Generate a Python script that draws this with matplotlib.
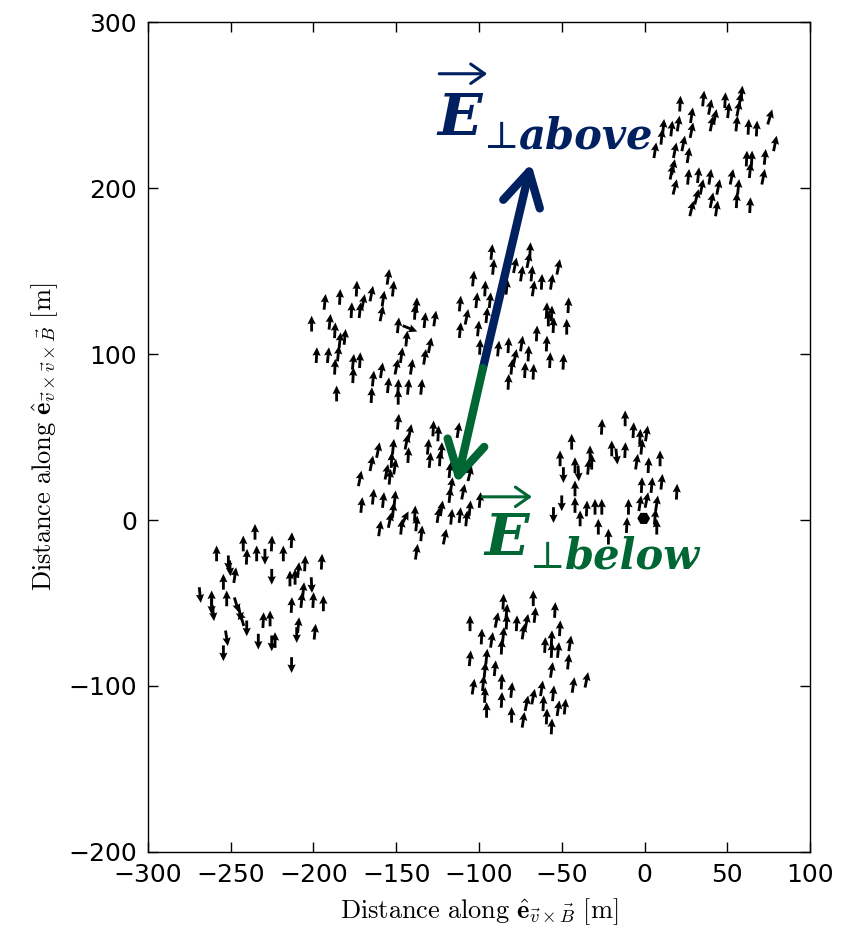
import numpy as np
import matplotlib
matplotlib.use('Agg')
import matplotlib.pyplot as plt

plt.rcParams['mathtext.fontset'] = 'cm'

# arrow samples per antenna cluster: (x, y, u, v)
cluster_top_right = [
    (21.5, 251, 0.05, 1), (35.6, 254.1, 0.1, 1), (39.6, 249, 0.2, 1), (48.7, 253.1, 0.05, 1),
    (50.7, 247, 0.1, 1), (57.7, 253.1, 0.15, 1), (58.7, 257.1, 0.1, 1), (56.7, 248, 0.2, 1),
    (42.6, 243, 0.2, 1), (40.6, 239, 0.2, 1), (55.7, 239, 0.1, 1), (62.8, 237, 0.05, 1),
    (67.8, 236, 0.05, 1), (75.8, 243, 0.3, 1), (78.9, 227, 0.2, 1), (28.5, 244, 0.15, 1),
    (20.5, 239, 0.15, 1), (16.4, 236, 0.1, 1), (11.4, 237, 0.1, 1), (10.4, 231, 0.1, 1),
    (6.4, 222.9, 0.15, 1), (28.5, 235, 0.2, 1), (23.5, 227, 0.2, 1), (18.4, 222.9, 0.2, 1),
    (26.5, 219.9, 0.15, 1), (17.4, 212.9, 0.2, 1), (16.4, 209.9, 0.2, 1), (18.4, 200.8, 0.25, 1),
    (26.5, 206.9, 0.1, 1), (32.5, 207.9, 0.1, 1), (39.6, 206.9, 0.15, 1), (34.6, 200.8, 0.2, 1),
    (31.5, 194.8, 0.25, 1), (28.5, 187.8, 0.25, 1), (44.6, 200.8, 0.2, 1), (40.6, 192.8, 0.2, 1),
    (43.6, 187.8, 0.15, 1), (52.7, 206.9, 0.2, 1), (56.7, 200.8, 0.1, 1), (55.7, 192.8, 0.05, 1),
    (61.7, 217.9, 0.05, 1), (64.8, 217.9, 0.05, 1), (63.8, 210.9, 0.1, 1), (72.8, 218.9, 0.1, 1),
    (71.8, 206.9, 0.2, 1), (63.8, 189.8, 0.05, 1),
]

cluster_right = [
    (-25.8, 56.2, 0.05, 1), (-11.7, 61.3, 0, 1), (-6.7, 54.2, 0.05, 1), (-2.7, 50.2, 0.05, 1),
    (1.3, 52.2, 0.15, 1), (-1.7, 44.2, 0.1, 1), (-44.0, 47.2, 0, 1), (-51.0, 37.2, 0, 1),
    (-49.0, 27.1, 0, -1), (-42.0, 33.1, 0, 1), (-39.9, 28.1, 0.05, -1), (-32.9, 40.2, 0, 1),
    (-33.9, 32.1, 0.1, 1), (-31.9, 35.2, 0, 1), (-19.8, 43.2, 0, 1), (-16.8, 38.2, 0.1, -1),
    (-11.7, 42.2, 0.05, 1), (-4.7, 35.2, 0.15, 1), (2.4, 33.1, 0.05, 1), (9.4, 37.2, 0, 1),
    (-1.7, 21.1, 0.05, 1), (4.4, 21.1, 0.1, 1), (10.4, 23.1, 0.1, 1), (19.5, 17.1, 0.05, 1),
    (-42.0, 19.1, 0, 1), (-42.0, 9.1, 0, 1), (-50.0, 10.1, 0, -1), (-55.0, 3.0, 0, -1),
    (-38.9, 1.0, 0, 1), (-34.9, 7.0, 0.05, 1), (-29.9, 8.0, 0, 1), (-25.8, 8.0, 0, 1),
    (-27.9, -4.0, 0, 1), (-9.7, 8.0, 0, 1), (-10.7, -3.0, 0.05, 1), (-2.7, 10.1, 0.15, 1),
    (1.3, 12.1, 0.2, 1), (7.4, 10.1, 0.15, 1), (6.4, 2.0, 0.1, 1), (7.4, -4.0, 0, 1),
    (-21.8, -10.0, 0, 1),
]

# near-zero field at the shower core
core_x = [-0.5]
core_y = [1.0]

cluster_bottom = [
    (-85.3, -49.2, 0.05, 1), (-83.3, -55.2, 0.1, 1), (-67.2, -47.1, 0, 1), (-66.2, -57.2, 0.1, 1),
    (-54.1, -54.2, 0.05, 1), (-105.4, -62.2, 0, 1), (-89.3, -60.2, 0.2, 1), (-83.3, -61.2, 0.05, 1),
    (-77.2, -62.2, 0.05, 1), (-71.2, -61.2, 0.2, 1), (-73.2, -67.2, 0.15, 1), (-98.4, -70.2, 0.05, 1),
    (-92.3, -72.2, 0.15, 1), (-85.3, -69.2, 0.1, 1), (-86.3, -76.3, 0.05, 1), (-60.1, -75.3, 0.05, 1),
    (-56.1, -71.2, 0.05, 1), (-51.1, -65.2, 0.05, 1), (-56.1, -78.3, 0.05, 1), (-52.1, -78.3, 0.1, 1),
    (-45.0, -74.3, 0.15, 1), (-46.0, -85.3, 0.1, 1), (-105.4, -83.3, 0.1, 1), (-95.4, -82.3, 0.1, 1),
    (-96.4, -90.3, 0.1, 1), (-90.3, -89.3, 0.1, 1), (-103.4, -100.4, 0.15, 1), (-97.4, -98.3, 0.1, 1),
    (-96.4, -105.4, 0.05, 1), (-95.4, -114.4, 0, 1), (-86.3, -97.3, 0.05, 1), (-86.3, -108.4, 0.05, 1),
    (-80.3, -102.4, 0.1, 1), (-80.3, -117.4, 0, 1), (-73.2, -120.4, 0.15, 1), (-71.2, -110.4, 0.2, 1),
    (-67.2, -106.4, 0.2, 1), (-62.1, -101.4, 0.15, 1), (-61.1, -110.4, 0.05, 1), (-59.1, -118.4, 0.05, 1),
    (-56.1, -124.4, 0.05, 1), (-55.1, -104.4, 0.1, 1), (-56.1, -90.3, 0.15, 1), (-52.1, -113.4, 0.15, 1),
    (-48.0, -112.4, 0.1, 1), (-43.0, -99.4, 0.15, 1), (-35.0, -96.3, 0.2, 1),
]

cluster_left = [
    (-235.3, -7.1, 0, 1), (-242.4, -14.1, 0, 1), (-240.3, -22.1, 0.05, 1), (-234.3, -20.1, 0, 1),
    (-229.3, -22.1, 0, -1), (-225.2, -14.1, 0.05, 1), (-213.2, -12.1, 0.05, 1), (-218.2, -20.1, 0, 1),
    (-258.5, -20.1, 0, 1), (-251.4, -26.1, 0, -1), (-250.4, -29.1, 0.05, -1), (-247.4, -33.2, 0.15, 1),
    (-254.4, -37.2, 0, 1), (-225.2, -34.2, 0, -1), (-214.2, -35.2, 0, 1), (-211.1, -34.2, 0, 1),
    (-209.1, -30.1, 0.1, 1), (-205.1, -26.1, 0.05, 1), (-195.0, -25.1, 0.05, 1), (-268.5, -45.2, 0.1, -1),
    (-261.5, -47.2, 0, 1), (-261.5, -52.2, 0, -1), (-260.5, -56.2, 0.1, -1), (-252.4, -47.2, 0, 1),
    (-246.4, -51.2, 0.3, -1), (-244.4, -56.2, 0.2, -1), (-243.4, -59.3, -0.3, 1), (-240.3, -65.3, 0, -1),
    (-230.3, -60.3, 0.05, 1), (-226.2, -59.3, 0, 1), (-233.3, -73.3, 0, -1), (-225.2, -74.3, 0, -1),
    (-223.2, -72.3, 0, 1), (-213.2, -51.2, 0.05, 1), (-207.1, -48.2, 0.1, 1), (-206.1, -42.2, 0.1, 1),
    (-201.1, -39.2, 0.05, -1), (-200.1, -48.2, 0.05, 1), (-194.0, -50.2, 0, 1), (-209.1, -63.3, 0.1, 1),
    (-210.1, -69.3, 0, -1), (-199.1, -67.3, 0.1, 1), (-252.4, -71.3, 0.15, -1), (-254.4, -80.3, 0, -1),
    (-213.2, -87.4, 0, -1),
]

cluster_centre = [
    (-148.8, 59.3, 0.1, 1), (-141.7, 53.2, 0.2, 1), (-127.6, 55.2, 0.05, 1), (-124.6, 52.2, 0.05, 1),
    (-112.5, 54.2, 0.15, 1), (-160.9, 42.2, 0.2, 1), (-151.8, 44.2, 0.1, 1), (-143.7, 47.2, 0.2, 1),
    (-130.7, 44.2, 0.1, 1), (-122.6, 42.2, 0.05, 1), (-164.9, 34.2, 0.2, 1), (-152.8, 36.2, 0.05, 1),
    (-150.8, 32.2, 0.15, 1), (-155.8, 29.1, 0.2, 1), (-142.7, 39.2, 0.05, 1), (-129.6, 36.2, 0.1, 1),
    (-123.6, 37.2, 0.05, 1), (-171.9, 25.1, 0.2, 1), (-153.8, 26.1, 0.1, 1), (-117.6, 30.1, 0.1, 1),
    (-105.5, 28.1, 0.25, 1), (-116.6, 21.1, 0.15, 1), (-109.5, 17.1, 0.2, 1), (-170.9, 9.1, 0.1, 1),
    (-163.9, 14.1, 0.1, 1), (-157.8, 12.1, 0.1, 1), (-150.8, 13.1, 0.1, 1), (-117.6, 15.1, 0.1, 1),
    (-159.9, -5.0, 0.15, 1), (-153.8, 0.0, 0.2, 1), (-151.8, 6.0, 0.1, 1), (-146.8, -4.0, 0.1, 1),
    (-144.7, 1.0, 0.5, 1), (-138.7, 4.0, 0.05, 1), (-137.7, -2.0, 0.1, 1), (-134.7, -8.0, 0.1, 1),
    (-137.7, -19.1, 0.15, 1), (-124.6, 3.0, 0.15, 1), (-122.6, 7.1, 0.15, 1), (-120.6, -10.0, 0.2, 1),
    (-116.6, 2.0, 0.1, 1), (-111.5, 3.0, 0.1, 1), (-107.5, 1.0, 0.1, 1), (-105.5, 7.1, 0.1, 1),
    (-99.4, 12.1, 0.1, 1),
]

cluster_upper_left = [
    (-154.8, 146.6, 0.15, 1), (-151.8, 139.5, 0.1, 1), (-173.9, 139.5, 0.05, 1), (-184.0, 134.5, 0.05, 1),
    (-193.1, 131.5, 0.1, 1), (-164.9, 136.5, 0.2, 1), (-169.9, 131.5, 0.2, 1), (-177.0, 126.5, 0.05, 1),
    (-171.9, 126.5, 0.1, 1), (-157.8, 133.5, 0.15, 1), (-158.8, 124.5, 0.2, 1), (-137.7, 129.5, 0.05, 1),
    (-138.7, 125.5, 0.05, 1), (-201.1, 118.4, 0, 1), (-190.1, 119.5, 0.1, 1), (-187.0, 114.4, 0.05, 1),
    (-184.0, 108.4, 0.1, 1), (-181.0, 110.4, 0.1, 1), (-148.8, 117.4, 0.1, 1), (-141.7, 115.4, 1, -0.4),
    (-143.7, 109.4, 0.1, 1), (-132.7, 120.5, 0.1, 1), (-126.6, 121.5, 0.15, 1), (-129.6, 105.4, 0.2, 1),
    (-132.7, 98.4, 0.15, 1), (-198.1, 99.4, 0.05, 1), (-191.1, 99.4, 0.1, 1), (-185.0, 100.4, 0.1, 1),
    (-187.0, 92.4, 0.05, 1), (-176.0, 95.4, 0.1, 1), (-171.9, 96.4, 0.05, 1), (-176.0, 87.3, 0.05, 1),
    (-146.8, 99.4, 0.15, 1), (-149.8, 92.4, 0.2, 1), (-140.7, 92.4, 0.15, 1), (-158.8, 90.3, 0.15, 1),
    (-163.9, 85.3, 0.1, 1), (-164.9, 75.3, 0.05, 1), (-154.8, 81.3, 0.1, 1), (-148.8, 80.3, 0.05, 1),
    (-148.8, 74.3, 0, 1), (-142.7, 80.3, 0.1, 1), (-134.7, 80.3, 0.1, 1), (-186.0, 76.3, 0, 1),
]

cluster_upper_mid = [
    (-92.3, 161.6, 0.1, 1), (-91.3, 152.6, 0.1, 1), (-78.2, 153.6, 0.2, 1), (-69.1, 162.7, 0.05, 1),
    (-70.1, 156.6, 0.2, 1), (-74.2, 148.6, 0.15, 1), (-68.1, 148.6, 0.1, 1), (-67.1, 139.6, 0.15, 1),
    (-62.1, 143.6, 0.05, 1), (-56.1, 143.6, 0.15, 1), (-52.0, 152.6, 0.2, 1), (-103.4, 145.6, 0.1, 1),
    (-96.3, 139.6, 0.05, 1), (-83.2, 140.6, 0.1, 1), (-111.4, 130.5, 0.1, 1), (-101.4, 132.5, 0.1, 1),
    (-93.3, 132.5, 0.1, 1), (-107.4, 122.5, 0.2, 1), (-95.3, 123.5, 0.1, 1), (-111.4, 114.5, 0.1, 1),
    (-100.4, 115.5, 0.1, 1), (-59.1, 126.5, 0.05, 1), (-56.1, 124.5, 0.05, 1), (-58.1, 121.5, 0, 1),
    (-55.0, 117.5, 0.05, 1), (-46.0, 129.5, 0.05, 1), (-47.0, 116.5, 0, 1), (-65.1, 112.5, 0.05, 1),
    (-99.4, 104.4, 0.05, 1), (-88.3, 103.4, 0.1, 1), (-82.2, 105.4, 0.05, 1), (-74.2, 106.4, 0.15, 1),
    (-78.2, 98.4, 0.2, 1), (-80.2, 92.4, 0.1, 1), (-82.2, 83.3, 0.05, 1), (-70.1, 100.4, 0.05, 1),
    (-72.2, 90.4, 0.05, 1), (-67.1, 89.4, 0.05, 1), (-59.1, 106.4, 0.05, 1), (-57.1, 96.4, 0.05, 1),
    (-49.0, 95.4, 0.05, 1),
]

# big E-field arrows (start, end)
e_start = (-97.6, 91.6)
e_above_end = (-68.5, 215.0)
e_below_end = (-113.5, 22.0)

navy = '#002060'
green = '#006633'

fig = plt.figure(figsize=(8.5, 9.3), dpi=100)
ax = fig.add_axes([0.174, 0.084, 0.779, 0.892])

all_clusters = [cluster_top_right, cluster_right, cluster_bottom, cluster_left,
                cluster_centre, cluster_upper_left, cluster_upper_mid]
for cl in all_clusters:
    arr = np.array(cl, dtype=float)
    n = np.hypot(arr[:, 2], arr[:, 3])
    ax.quiver(arr[:, 0], arr[:, 1], arr[:, 2] / n, arr[:, 3] / n,
              pivot='middle', angles='xy', scale_units='xy', scale=1 / 9.5,
              width=0.0043, headwidth=2.9, headlength=3.0, headaxislength=2.7,
              color='k', zorder=2)

ax.quiver(core_x, core_y, [0.0], [0.0], angles='xy', scale_units='xy', scale=1 / 9.5,
          width=0.0043, minlength=4.5, color='k', zorder=2)

ax.annotate('', xy=e_above_end, xytext=e_start,
            arrowprops=dict(arrowstyle='->, head_length=0.8, head_width=0.45',
                            lw=6, color=navy, mutation_scale=30,
                            shrinkA=0, shrinkB=0), zorder=4)
ax.annotate('', xy=e_below_end, xytext=e_start,
            arrowprops=dict(arrowstyle='->, head_length=0.8, head_width=0.45',
                            lw=6, color=green, mutation_scale=30,
                            shrinkA=0, shrinkB=0), zorder=4)

serif = ['DejaVu Serif', 'DejaVu Sans']

# E_perp above label
ax.annotate('', xy=(-95, 269), xytext=(-124, 269),
            arrowprops=dict(arrowstyle='->, head_length=0.5, head_width=0.35',
                            lw=2.2, color=navy, mutation_scale=20, shrinkA=0, shrinkB=0))
ax.text(-125, 232, 'E', fontsize=42, fontweight='bold', fontstyle='italic',
        family=serif, color=navy, ha='left', va='baseline', zorder=5)
ax.text(-97, 224, '⊥', fontsize=27, family=serif, color=navy,
        ha='left', va='baseline', zorder=5)
ax.text(-76, 224, 'above', fontsize=30, fontweight='bold', fontstyle='italic',
        family=serif, color=navy, ha='left', va='baseline', zorder=5)

# E_perp below label
ax.annotate('', xy=(-68, 14), xytext=(-98, 14),
            arrowprops=dict(arrowstyle='->, head_length=0.5, head_width=0.35',
                            lw=2.2, color=green, mutation_scale=20, shrinkA=0, shrinkB=0))
ax.text(-97, -21, 'E', fontsize=42, fontweight='bold', fontstyle='italic',
        family=serif, color=green, ha='left', va='baseline', zorder=5)
ax.text(-69, -29, '⊥', fontsize=27, family=serif, color=green,
        ha='left', va='baseline', zorder=5)
ax.text(-48, -29, 'below', fontsize=30, fontweight='bold', fontstyle='italic',
        family=serif, color=green, ha='left', va='baseline', zorder=5)

ax.set_xlim(-300, 100)
ax.set_ylim(-200, 300)
ax.set_xticks(np.arange(-300, 101, 50))
ax.set_yticks(np.arange(-200, 301, 100))
ax.tick_params(direction='in', top=True, right=True, length=7, width=1, labelsize=18, pad=8)
for sp in ax.spines.values():
    sp.set_linewidth(1.0)

ax.set_xlabel(r'$\mathrm{Distance\ along\ }\hat{\mathbf{e}}_{\vec{v}\times\vec{B}}\ [\mathrm{m}]$',
              fontsize=19, labelpad=7)
ax.set_ylabel(r'$\mathrm{Distance\ along\ }\hat{\mathbf{e}}_{\vec{v}\times\vec{v}\times\vec{B}}\ [\mathrm{m}]$',
              fontsize=19, labelpad=6)

fig.savefig('out.png', dpi=100)
